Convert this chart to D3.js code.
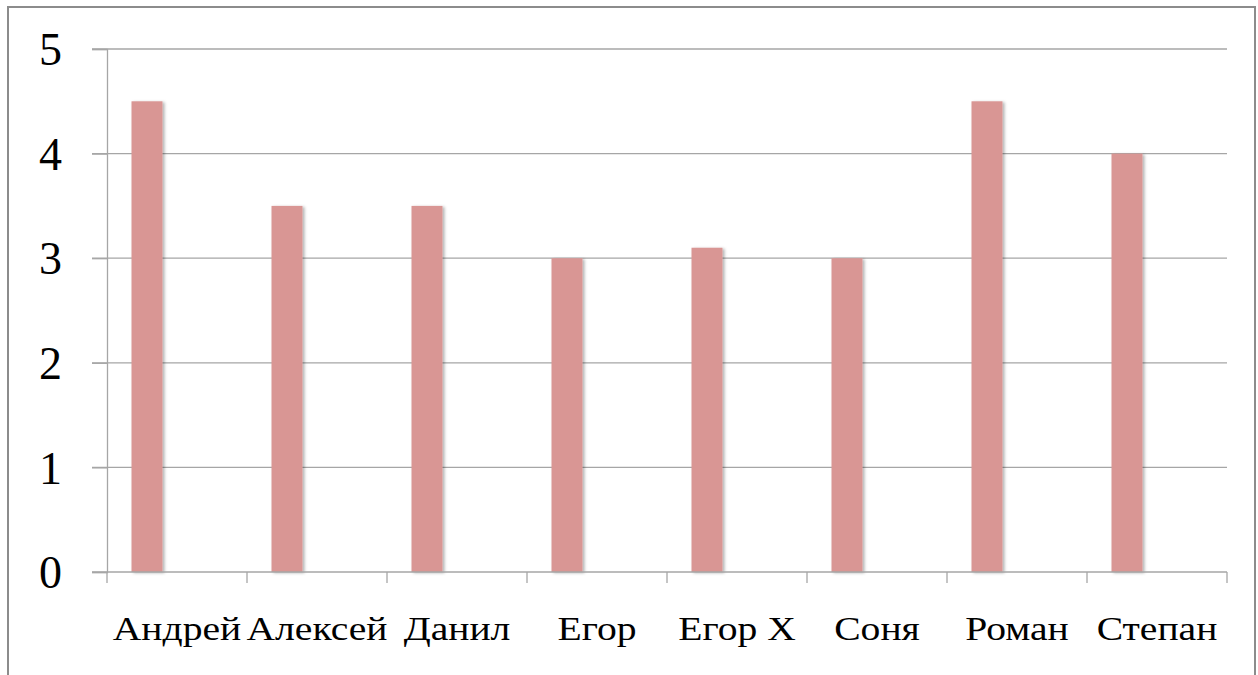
<!DOCTYPE html>
<html><head><meta charset="utf-8">
<script src="https://cdn.jsdelivr.net/npm/d3@7"></script>
<style>body{margin:0;background:#fff;} svg{display:block;}</style>
</head><body>
<svg id="c" width="1258" height="675"></svg>
<script>
const categories = ["Андрей","Алексей","Данил","Егор","Егор Х","Соня","Роман","Степан"];
const values = [4.5,3.5,3.5,3,3.1,3,4.5,4];
const yTicks = [0,1,2,3,4,5];

const svg = d3.select("#c");
const m={left:107,right:1227,top:49,bottom:572};

const defs = svg.append("defs");
const f = defs.append("filter").attr("id","sh").attr("x","-20%").attr("y","-5%").attr("width","150%").attr("height","115%");
f.append("feDropShadow").attr("dx",2).attr("dy",1).attr("stdDeviation",1.5).attr("flood-color","#000").attr("flood-opacity",0.3);

// outer border
svg.append("rect").attr("x",8).attr("y",7).attr("width",1247).attr("height",700)
  .attr("fill","#fff").attr("stroke","#8c8c8c").attr("stroke-width",2);

const x = d3.scaleBand().domain(categories).range([m.left,m.right]).padding(0);
const y = d3.scaleLinear().domain([0,5]).range([m.bottom,m.top]);

// gridlines
svg.append("g").selectAll("line").data(yTicks.filter(d=>d>0)).join("line")
  .attr("x1",92).attr("x2",m.right).attr("y1",d=>y(d)).attr("y2",d=>y(d))
  .attr("stroke","#a6a6a6").attr("stroke-width",1.3);

// y axis
const yAxis = d3.axisLeft(y).tickValues(yTicks).tickFormat(d3.format("d")).tickSize(15).tickPadding(30);
const gy = svg.append("g").attr("transform",`translate(${m.left},0)`).call(yAxis);
gy.select(".domain").attr("stroke","#a6a6a6").attr("stroke-width",1.3);
gy.selectAll(".tick line").attr("stroke","#a6a6a6").attr("stroke-width",1.3);
gy.selectAll("text").attr("font-family","Liberation Serif").attr("font-size",46).attr("fill","#000").attr("dy","0.34em");

// bars
const bw = x.bandwidth()*31/140, off = x.bandwidth()*24.5/140;
svg.append("g").selectAll("rect").data(values).join("rect")
  .attr("x",(d,i)=>x(categories[i])+off).attr("width",bw)
  .attr("y",d=>y(d)).attr("height",d=>y(0)-y(d))
  .attr("fill","#d99694").attr("filter","url(#sh)");

// x axis
const gx = svg.append("g").attr("transform",`translate(0,${m.bottom})`);
gx.append("line").attr("x1",92).attr("x2",m.right).attr("stroke","#a6a6a6").attr("stroke-width",1.3);
const bounds = categories.map(c=>x(c)).concat([m.right]);
gx.selectAll("line.t").data(bounds).join("line").attr("class","t")
  .attr("x1",d=>d).attr("x2",d=>d).attr("y1",0).attr("y2",11)
  .attr("stroke","#a6a6a6").attr("stroke-width",1.3);
gx.selectAll("text").data(categories).join("text")
  .attr("transform",d=>`translate(${x(d)+x.bandwidth()/2},68) scale(1.2,1)`)
  .attr("text-anchor","middle").attr("font-family","Liberation Serif").attr("font-size",33).attr("fill","#000")
  .text(d=>d);
</script>
</body></html>
